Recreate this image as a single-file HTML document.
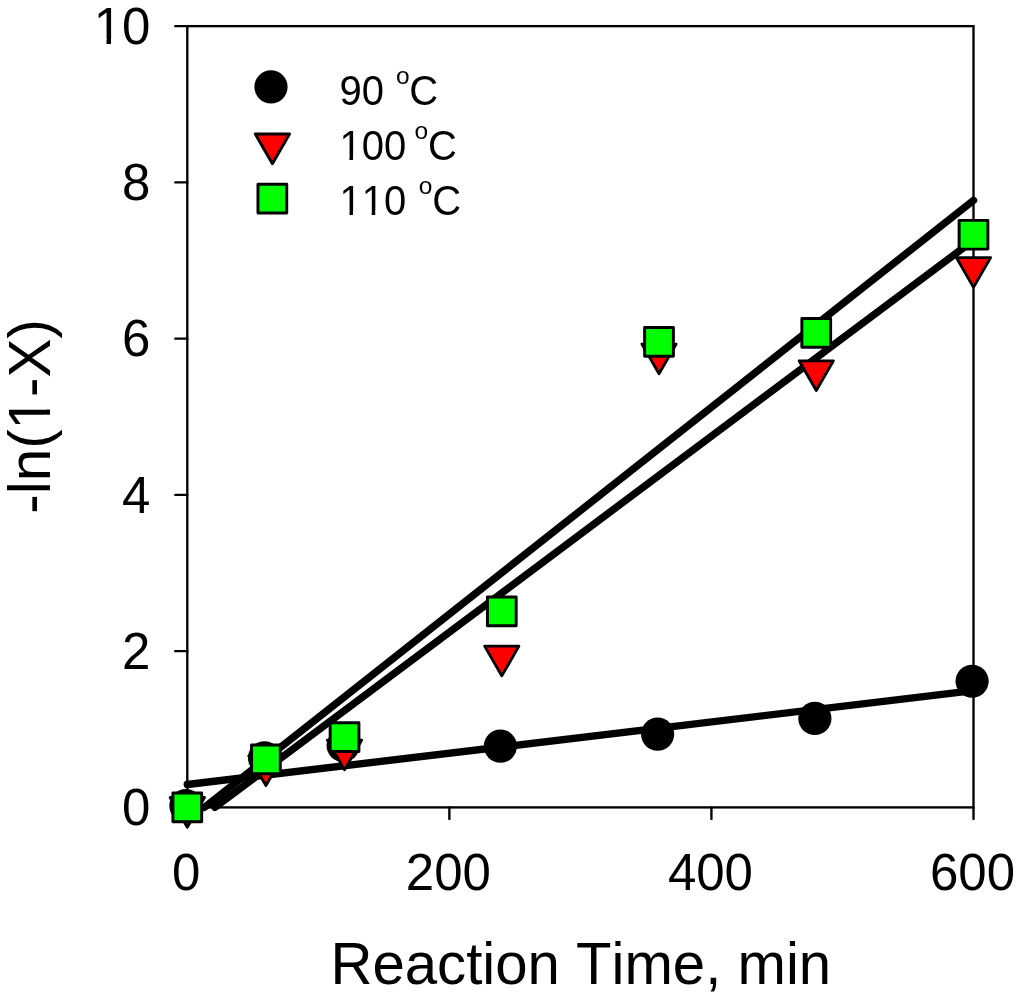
<!DOCTYPE html>
<html lang="en"><head><meta charset="utf-8"><title>-ln(1-X) vs Reaction Time</title>
<style>html,body{margin:0;padding:0;background:#fff;}svg{display:block;will-change:transform;}text{font-family:"Liberation Sans", Arial, sans-serif;fill:#000;font-kerning:none;}</style>
</head><body>
<svg width="1020" height="1000" viewBox="0 0 1020 1000">
<rect x="0" y="0" width="1020" height="1000" fill="#fff"/>
<g stroke="#000" stroke-width="2.35" fill="none" stroke-linecap="butt">
<rect x="187.30" y="26.15" width="786.20" height="781.25"/>
<line x1="175.30" y1="807.40" x2="187.30" y2="807.40" stroke-linecap="round"/>
<line x1="175.30" y1="651.15" x2="187.30" y2="651.15" stroke-linecap="round"/>
<line x1="175.30" y1="494.90" x2="187.30" y2="494.90" stroke-linecap="round"/>
<line x1="175.30" y1="338.65" x2="187.30" y2="338.65" stroke-linecap="round"/>
<line x1="175.30" y1="182.40" x2="187.30" y2="182.40" stroke-linecap="round"/>
<line x1="175.30" y1="26.15" x2="187.30" y2="26.15" stroke-linecap="round"/>
<line x1="187.30" y1="807.40" x2="187.30" y2="818.90" stroke-linecap="round"/>
<line x1="449.37" y1="807.40" x2="449.37" y2="818.90" stroke-linecap="round"/>
<line x1="711.43" y1="807.40" x2="711.43" y2="818.90" stroke-linecap="round"/>
<line x1="973.50" y1="807.40" x2="973.50" y2="818.90" stroke-linecap="round"/>
</g>
<g font-size="51" text-anchor="end">
<text x="150.4" y="825.00">0</text>
<text x="150.4" y="668.75">2</text>
<text x="150.4" y="512.50">4</text>
<text x="150.4" y="356.25">6</text>
<text x="150.4" y="200.00">8</text>
<text x="150.4" y="43.75">10</text>
</g>
<rect x="96.56" y="39.04" width="9.94" height="5.71" fill="#fff"/><rect x="111.00" y="39.04" width="9.54" height="5.71" fill="#fff"/>
<g font-size="51" text-anchor="middle">
<text x="186.30" y="889.5">0</text>
<text x="448.37" y="889.5">200</text>
<text x="710.43" y="889.5">400</text>
<text x="972.50" y="889.5">600</text>
</g>
<text transform="translate(580.8,983.9) scale(1,1.02)" font-size="58.15" text-anchor="middle">Reaction Time, min</text>
<g transform="translate(50.2,416.4) rotate(-90) scale(1,1.03)"><text font-size="58.4" text-anchor="middle">-ln(1-X)</text><rect x="-9.54" y="-5.26" width="11.24" height="6.26" fill="#fff"/><rect x="6.86" y="-5.26" width="10.78" height="6.26" fill="#fff"/></g>
<g stroke="#000" stroke-width="7.40" stroke-linecap="round" fill="none">
<line x1="187.30" y1="784.50" x2="973.50" y2="690.60"/>
<line x1="214.90" y1="807.40" x2="973.50" y2="240.30"/>
<line x1="204.40" y1="807.40" x2="973.50" y2="200.40"/>
</g>
<g>
<circle cx="185.90" cy="805.55" r="16.6" fill="#000"/>
<circle cx="264.52" cy="757.89" r="16.6" fill="#000"/>
<circle cx="343.14" cy="745.47" r="16.6" fill="#000"/>
<circle cx="500.38" cy="746.17" r="16.6" fill="#000"/>
<circle cx="657.62" cy="734.14" r="16.6" fill="#000"/>
<circle cx="814.86" cy="718.44" r="16.6" fill="#000"/>
<circle cx="972.10" cy="681.25" r="16.6" fill="#000"/>
<path d="M170.15 797.50L204.45 797.50L187.30 827.20Z" fill="#f00" stroke="#000" stroke-width="2.8" stroke-linejoin="round"/>
<path d="M248.77 755.86L283.07 755.86L265.92 785.56Z" fill="#f00" stroke="#000" stroke-width="2.8" stroke-linejoin="round"/>
<path d="M327.39 740.08L361.69 740.08L344.54 769.78Z" fill="#f00" stroke="#000" stroke-width="2.8" stroke-linejoin="round"/>
<path d="M484.63 646.17L518.93 646.17L501.78 675.87Z" fill="#f00" stroke="#000" stroke-width="2.8" stroke-linejoin="round"/>
<path d="M641.87 344.06L676.17 344.06L659.02 373.77Z" fill="#f00" stroke="#000" stroke-width="2.8" stroke-linejoin="round"/>
<path d="M799.11 360.78L833.41 360.78L816.26 390.48Z" fill="#f00" stroke="#000" stroke-width="2.8" stroke-linejoin="round"/>
<path d="M956.35 257.65L990.65 257.65L973.50 287.36Z" fill="#f00" stroke="#000" stroke-width="2.8" stroke-linejoin="round"/>
<rect x="172.93" y="793.02" width="28.75" height="28.75" fill="#0f0" stroke="#000" stroke-width="2.95" stroke-linejoin="round"/>
<rect x="251.55" y="744.98" width="28.75" height="28.75" fill="#0f0" stroke="#000" stroke-width="2.95" stroke-linejoin="round"/>
<rect x="330.17" y="722.71" width="28.75" height="28.75" fill="#0f0" stroke="#000" stroke-width="2.95" stroke-linejoin="round"/>
<rect x="487.41" y="596.93" width="28.75" height="28.75" fill="#0f0" stroke="#000" stroke-width="2.95" stroke-linejoin="round"/>
<rect x="644.64" y="327.56" width="28.75" height="28.75" fill="#0f0" stroke="#000" stroke-width="2.95" stroke-linejoin="round"/>
<rect x="801.88" y="318.57" width="28.75" height="28.75" fill="#0f0" stroke="#000" stroke-width="2.95" stroke-linejoin="round"/>
<rect x="959.12" y="220.37" width="28.75" height="28.75" fill="#0f0" stroke="#000" stroke-width="2.95" stroke-linejoin="round"/>
</g>
<g>
<circle cx="271.00" cy="86.90" r="16.6" fill="#000"/>
<path d="M255.25 134.00L289.55 134.00L272.40 163.70Z" fill="#f00" stroke="#000" stroke-width="2.8" stroke-linejoin="round"/>
<rect x="257.98" y="184.22" width="28.75" height="28.75" fill="#0f0" stroke="#000" stroke-width="2.95" stroke-linejoin="round"/>
</g>
<g font-size="40">
<text transform="translate(339.4,104.70) scale(1,1.080)">90</text>
<text x="395.90" y="84.10" font-size="24.5">o</text>
<text transform="translate(409.30,104.70) scale(1,1.080)">C</text>
<text transform="translate(339.4,159.80) scale(1,1.080)">100</text>
<rect x="341.45" y="155.67" width="8.01" height="5.13" fill="#fff"/><rect x="352.99" y="155.67" width="7.70" height="5.13" fill="#fff"/>
<text x="414.60" y="139.20" font-size="24.5">o</text>
<text transform="translate(428.00,159.80) scale(1,1.080)">C</text>
<text transform="translate(339.4,214.90) scale(1,1.080)">110</text>
<rect x="341.45" y="210.77" width="8.01" height="5.13" fill="#fff"/><rect x="352.99" y="210.77" width="7.70" height="5.13" fill="#fff"/><rect x="363.69" y="210.77" width="8.01" height="5.13" fill="#fff"/><rect x="375.24" y="210.77" width="7.70" height="5.13" fill="#fff"/>
<text x="418.80" y="194.30" font-size="24.5">o</text>
<text transform="translate(432.20,214.90) scale(1,1.080)">C</text>
</g>
</svg></body></html>
